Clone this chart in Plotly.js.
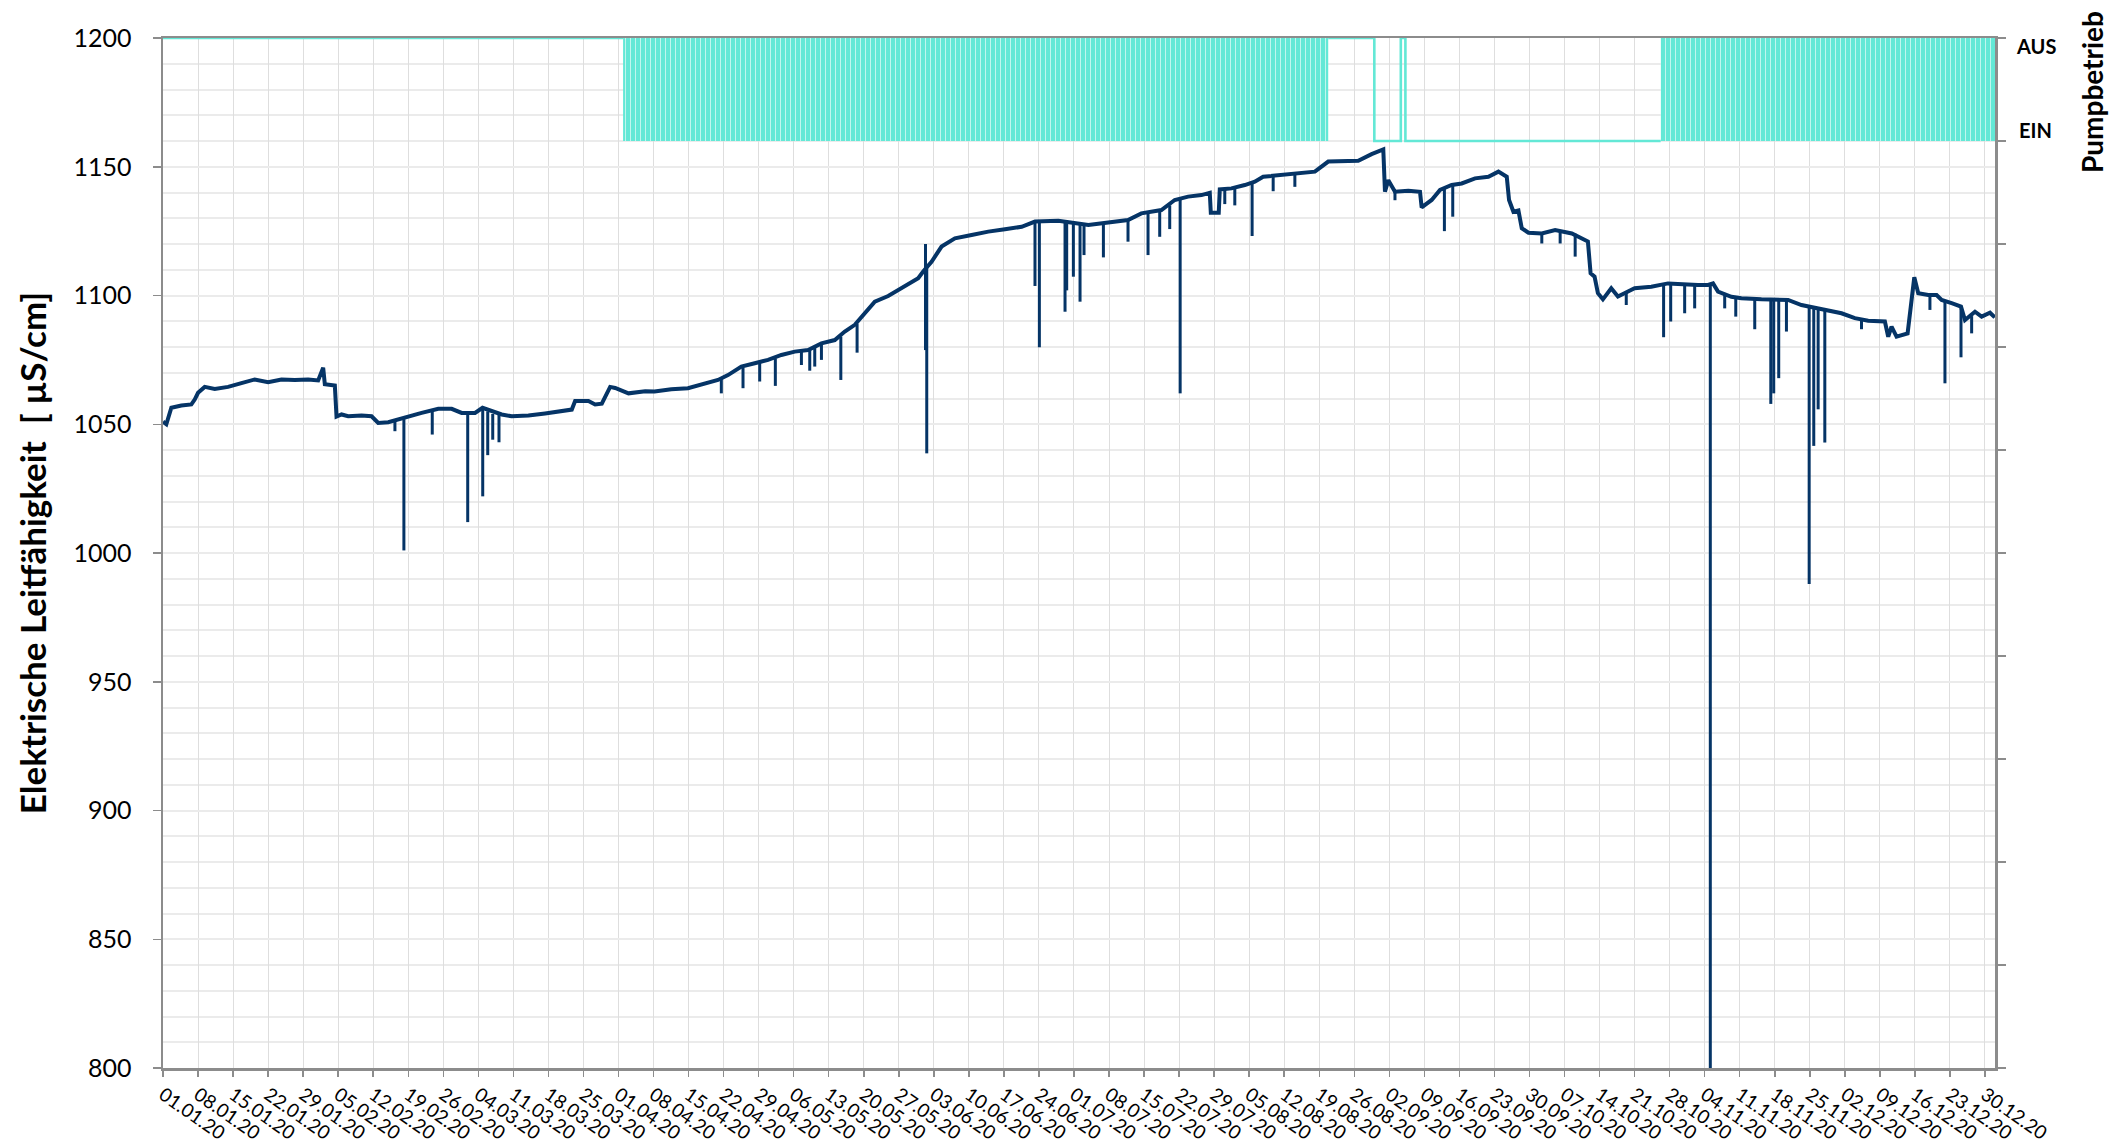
<!DOCTYPE html>
<html>
<head>
<meta charset="utf-8">
<script src="https://cdn.plot.ly/plotly-3.0.1.min.js"></script>
<style>html,body{margin:0;padding:0;background:#fff;}#chart{width:2125px;height:1144px;}</style>
</head>
<body>
<div id="chart"></div>
<script>
// ---- Elektrische Leitfähigkeit: Grundverlauf ----
const lfDates = [
'2020-01-01 00:00','2020-01-01 16:00','2020-01-02 16:00','2020-01-04 16:00','2020-01-06 16:00','2020-01-07 08:00','2020-01-08 00:00','2020-01-09 08:00','2020-01-11 08:00','2020-01-14 00:00',
'2020-01-16 16:00','2020-01-19 08:00','2020-01-22 00:00','2020-01-24 16:00','2020-01-27 08:00','2020-01-30 00:00','2020-02-01 00:00','2020-02-02 00:00','2020-02-02 08:00','2020-02-04 08:00',
'2020-02-04 16:00','2020-02-05 16:00','2020-02-07 00:00','2020-02-09 16:00','2020-02-11 16:00','2020-02-13 00:00','2020-02-15 00:00','2020-02-16 08:00','2020-02-19 00:00','2020-02-21 16:00',
'2020-02-25 00:00','2020-02-27 16:00','2020-02-29 16:00','2020-03-03 08:00','2020-03-04 20:00','2020-03-08 16:00','2020-03-10 16:00','2020-03-14 00:00','2020-03-17 08:00','2020-03-20 16:00',
'2020-03-22 16:00','2020-03-23 08:00','2020-03-26 00:00','2020-03-27 08:00','2020-03-28 16:00','2020-03-30 08:00','2020-03-31 08:00','2020-04-03 00:00','2020-04-06 08:00','2020-04-08 05:00',
'2020-04-11 13:00','2020-04-14 21:00','2020-04-18 05:00','2020-04-20 21:00','2020-04-22 21:00','2020-04-25 13:00','2020-04-28 05:00','2020-04-30 21:00','2020-05-03 13:00','2020-05-06 05:00',
'2020-05-08 21:00','2020-05-11 13:00','2020-05-14 05:00','2020-05-16 05:00','2020-05-18 05:00','2020-05-20 05:00','2020-05-22 05:00','2020-05-24 21:00','2020-05-26 21:00','2020-05-28 21:00',
'2020-05-30 21:00','2020-05-31 21:00','2020-06-02 13:00','2020-06-04 13:00','2020-06-07 05:00','2020-06-10 13:00','2020-06-13 21:00','2020-06-17 05:00','2020-06-20 13:00','2020-06-23 05:00',
'2020-06-25 21:00','2020-06-27 21:00','2020-07-03 21:00','2020-07-07 21:00','2020-07-09 03:00','2020-07-11 19:00','2020-07-14 11:00','2020-07-18 11:00','2020-07-21 03:00','2020-07-23 19:00',
'2020-07-26 11:00','2020-07-28 03:00','2020-07-28 08:00','2020-07-29 22:00','2020-07-30 03:00','2020-08-01 11:00','2020-08-04 03:00','2020-08-06 03:00','2020-08-07 19:00','2020-08-11 11:00',
'2020-08-14 03:00','2020-08-18 03:00','2020-08-20 19:00','2020-08-23 11:00','2020-08-26 19:00','2020-08-29 11:00','2020-08-31 19:00','2020-09-01 03:00','2020-09-01 19:00','2020-09-03 03:00',
'2020-09-05 19:00','2020-09-08 03:00','2020-09-08 11:00','2020-09-10 11:00','2020-09-12 03:00','2020-09-14 11:00','2020-09-16 11:00','2020-09-19 03:00','2020-09-21 19:00','2020-09-23 19:00',
'2020-09-25 11:00','2020-09-25 22:00','2020-09-26 19:00','2020-09-27 19:00','2020-09-28 11:00','2020-09-29 19:00','2020-10-02 11:00','2020-10-05 03:00','2020-10-08 11:00','2020-10-11 16:00',
'2020-10-12 05:00','2020-10-13 00:00','2020-10-13 16:00','2020-10-14 16:00','2020-10-16 08:00','2020-10-17 16:00','2020-10-21 00:00','2020-10-24 08:00','2020-10-27 16:00','2020-11-02 16:00',
'2020-11-04 16:00','2020-11-05 16:00','2020-11-06 16:00','2020-11-09 08:00','2020-11-11 08:00','2020-11-15 08:00','2020-11-20 16:00','2020-11-23 08:00','2020-11-29 08:00','2020-12-01 08:00',
'2020-12-04 00:00','2020-12-06 16:00','2020-12-10 00:00','2020-12-10 16:00','2020-12-11 08:00','2020-12-12 08:00','2020-12-14 13:00','2020-12-15 21:00','2020-12-16 16:00','2020-12-18 16:00',
'2020-12-20 08:00','2020-12-21 08:00','2020-12-23 08:00','2020-12-25 05:00','2020-12-26 00:00','2020-12-28 00:00','2020-12-29 08:00','2020-12-31 00:00','2020-12-31 23:00'
];
const lfValues = [
1051,1050,1056.4,1057.3,1057.7,1059.6,1062.2,1064.5,1063.7,1064.5,
1066,1067.4,1066.3,1067.4,1067.2,1067.4,1067,1072,1065.5,1065,
1053,1053.8,1053.1,1053.4,1053.1,1050.5,1050.8,1051.6,1053.1,1054.4,
1056,1056,1054.4,1054.4,1056.4,1053.8,1053.1,1053.4,1054.2,1055.1,
1055.7,1059,1059,1057.7,1058,1064.5,1064.1,1062,1062.8,1062.7,
1063.6,1064,1065.9,1067.2,1069.1,1072.4,1073.7,1075,1076.9,1078.2,
1078.8,1081.4,1082.7,1086,1088.6,1093.1,1097.6,1099.8,1102.1,1104.7,
1106.7,1109.3,1113.1,1119,1122.2,1123.5,1124.8,1125.7,1126.7,1128.7,
1128.7,1129,1127.4,1128.3,1128.7,1129.3,1131.9,1133.2,1137.1,1138.4,
1139,1139.9,1132.1,1132.1,1141.2,1141.6,1142.9,1144.2,1146.1,1146.8,
1147.4,1148.1,1152,1152,1152.3,1154.9,1156.7,1140.3,1144.8,1140.3,
1140.7,1140.3,1134.2,1137.1,1141,1142.9,1143.5,1145.5,1146.1,1148.1,
1146.1,1137.1,1132.5,1133,1126.1,1124.4,1124.1,1125.4,1124.1,1121,
1108.6,1107.3,1100.9,1098.5,1102.8,1099.6,1102.8,1103.4,1104.7,1104.1,
1104.1,1104.7,1101.5,1099.5,1098.9,1098.5,1098.3,1096.3,1094.1,1093.1,
1091.2,1090.2,1089.9,1084,1087.9,1084,1085.3,1107.1,1100.9,1100.2,
1100.2,1098.3,1097,1095.7,1090.5,1093.7,1091.8,1093.3,1091.5
];

// ---- Kurzzeitige Einbrüche (Zeitpunkt, Ausgangswert, Minimum) ----
const dipDates = [
'2020-02-16 08:00','2020-02-18 03:00','2020-02-23 19:00','2020-03-01 21:00','2020-03-04 21:00','2020-03-05 21:00','2020-03-06 21:00','2020-03-08 03:00',
'2020-04-21 13:00','2020-04-25 21:00','2020-04-29 05:00','2020-05-02 08:00','2020-05-07 13:00','2020-05-09 05:00','2020-05-10 05:00','2020-05-11 13:00',
'2020-05-15 10:00','2020-05-18 16:00','2020-06-01 08:00','2020-06-01 14:00','2020-06-23 05:00','2020-06-24 02:00','2020-06-29 05:00','2020-06-29 13:00',
'2020-06-30 21:00','2020-07-02 05:00','2020-07-03 00:00','2020-07-06 21:00','2020-07-11 19:00','2020-07-15 19:00','2020-07-18 03:00','2020-07-20 03:00',
'2020-07-22 05:00','2020-07-31 03:00','2020-08-02 03:00','2020-08-05 14:00','2020-08-09 19:00','2020-08-14 03:00','2020-09-03 03:00','2020-09-13 00:00',
'2020-09-14 16:00','2020-10-02 11:00','2020-10-06 03:00','2020-10-09 03:00','2020-10-19 08:00','2020-10-26 19:00','2020-10-28 05:00','2020-10-31 00:00',
'2020-11-02 00:00','2020-11-05 03:00','2020-11-08 00:00','2020-11-10 05:00','2020-11-14 00:00','2020-11-17 05:00','2020-11-17 19:00','2020-11-18 19:00',
'2020-11-20 08:00','2020-11-24 21:00','2020-11-25 19:00','2020-11-26 16:00','2020-11-28 00:00','2020-12-05 08:00','2020-12-19 00:00','2020-12-22 00:00',
'2020-12-25 05:00','2020-12-27 08:00'
];
const dipTops = [
1051.6,1052,1055,1054,1056,1055,1054,1054,
1068,1072,1074,1075.5,1078.5,1079,1080,1081,
1084,1089,1120,1111,1128.7,1128.7,1129,1129,
1128,1128,1127.5,1128,1129.3,1132,1133,1135,
1137.5,1141.4,1142,1143.5,1146.4,1147.4,1140.3,1142,
1143,1124.1,1125,1124,1101,1104,1104.7,1104.5,
1104.2,1104.5,1100.5,1099,1098.7,1098.5,1098.5,1098.4,
1098.3,1096,1095.5,1095.3,1094.8,1091,1100.2,1098,
1095.7,1092
];
const dipLows = [
1047.3,1001,1046,1012,1022,1038,1044,1043,
1062,1064,1066.6,1064.9,1073,1070.8,1072.4,1075,
1067.2,1077.8,1078.8,1038.7,1103.7,1079.9,1093.7,1102,
1107.3,1097.6,1115.7,1114.8,1120.9,1115.7,1122.8,1125.8,
1062,1135.5,1135,1123.1,1140.5,1142.2,1137,1125,
1130.6,1120.2,1120.2,1115.1,1096.3,1083.8,1089.9,1093.1,
1095,800,1095,1091.8,1086.9,1057.9,1062,1067.9,
1086,988,1041.6,1055.8,1042.9,1086.9,1094.4,1065.9,
1076,1085.3
];

// ---- Pumpbetrieb (Zustandswechsel; "TAKT" = ständiges Schalten EIN/AUS) ----
const pumpDates  = ['2020-01-01 00:00','2020-04-01 22:00','2020-08-20 19:00','2020-08-30 00:00','2020-09-04 07:00','2020-09-05 05:00','2020-10-26 05:00'];
const pumpStates = ['AUS','TAKT','AUS','EIN','AUS','EIN','TAKT'];
const pumpEnd = '2021-01-01 00:00';
const pumpLevel = {AUS: 1, EIN: 0};

// ---- Achsen ----
const xStart = '2020-01-01 00:00', xEnd = '2021-01-01 00:00';
const weekTick0 = '2020-01-01';

const NAVY = '#053466', CYAN = '#63e8d6', AXIS = '#8c8c8c', FONT = 'Lato, "Open Sans", sans-serif';

// dips as vertical segments
const dipX = [], dipY = [];
dipDates.forEach((d, i) => { dipX.push(d, d, null); dipY.push(dipTops[i], dipLows[i], null); });

// pump line + cycling blocks
const pLineX = [], pLineY = [];
const blockTraces = [];
pumpStates.forEach((s, i) => {
  const start = pumpDates[i];
  const end = i + 1 < pumpDates.length ? pumpDates[i + 1] : pumpEnd;
  if (s === 'TAKT') {
    blockTraces.push({
      x: [start, end, end, start, start], y: [pumpLevel.AUS, pumpLevel.AUS, pumpLevel.EIN, pumpLevel.EIN, pumpLevel.AUS],
      yaxis: 'y2', type: 'scatter', mode: 'lines', fill: 'toself', line: {width: 0, color: CYAN},
      fillcolor: CYAN,
      fillpattern: {shape: '|', fgcolor: '#ffffff', bgcolor: CYAN, size: 5, solidity: 0.12},
      hoverinfo: 'skip', showlegend: false
    });
  } else {
    pLineX.push(start); pLineY.push(pumpLevel[s]);
    const next = pumpStates[i + 1];
    if (next === undefined || next === 'TAKT') { pLineX.push(end, null); pLineY.push(pumpLevel[s], null); }
  }
});

const traces = [
  ...blockTraces,
  {x: pLineX, y: pLineY, yaxis: 'y2', type: 'scatter', mode: 'lines', line: {color: CYAN, width: 2.6, shape: 'hv'}, name: 'Pumpbetrieb', showlegend: false},
  {x: lfDates, y: lfValues, type: 'scatter', mode: 'lines', line: {color: NAVY, width: 4}, name: 'Elektrische Leitfähigkeit', showlegend: false},
  {x: dipX, y: dipY, type: 'scatter', mode: 'lines', line: {color: NAVY, width: 3}, hoverinfo: 'skip', showlegend: false}
];

const layout = {
  width: 2125, height: 1144,
  margin: {l: 163, r: 130, t: 38, b: 76, pad: 0},
  paper_bgcolor: '#ffffff', plot_bgcolor: '#ffffff',
  showlegend: false,
  font: {family: FONT, color: '#000000'},
  xaxis: {
    type: 'date', range: [xStart, xEnd], tick0: weekTick0, dtick: 7 * 86400000, tickformat: '%d.%m.%y',
    tickangle: 35, tickfont: {size: 19, family: FONT, color: '#000'},
    ticks: 'outside', ticklen: 6, tickwidth: 1.5, tickcolor: AXIS,
    showline: true, linecolor: AXIS, linewidth: 2.5, mirror: true,
    showgrid: true, gridcolor: '#dedede', gridwidth: 1,
    zeroline: false, automargin: false, layer: 'below traces'
  },
  yaxis: {
    range: [800, 1200], tick0: 800, dtick: 50,
    tickfont: {size: 25, family: FONT, color: '#000'},
    ticks: 'outside', ticklen: 8, tickwidth: 1.5, tickcolor: AXIS, ticklabelstandoff: 16,
    showline: true, linecolor: AXIS, linewidth: 2.5,
    showgrid: true, gridcolor: '#ebebeb', gridwidth: 2,
    minor: {dtick: 10, showgrid: true, gridcolor: '#ebebeb', gridwidth: 2, ticks: ''},
    zeroline: false, automargin: false, layer: 'below traces',
    title: {text: 'Elektrische Leitfähigkeit  [ µS/cm]', font: {size: 35, family: FONT, weight: 700, color: '#000'}, standoff: 16}
  },
  yaxis2: {
    overlaying: 'y', side: 'right', range: [-9, 1], tick0: 0, dtick: 1,
    showticklabels: false, ticks: 'outside', ticklen: 8, tickwidth: 1.5, tickcolor: AXIS,
    showline: true, linecolor: AXIS, linewidth: 2.5, showgrid: false, zeroline: false,
    automargin: false, layer: 'below traces'
  },
  annotations: [
    {text: 'AUS', xref: 'paper', yref: 'y2', x: 1.0, y: pumpLevel.AUS, xanchor: 'left', yanchor: 'middle', xshift: 19, yshift: -8, showarrow: false, font: {size: 20, family: FONT, weight: 700, color: '#000'}},
    {text: 'EIN', xref: 'paper', yref: 'y2', x: 1.0, y: pumpLevel.EIN, xanchor: 'left', yanchor: 'middle', xshift: 22, yshift: 11, showarrow: false, font: {size: 20, family: FONT, weight: 700, color: '#000'}},
    {text: 'Pumpbetrieb', xref: 'paper', yref: 'paper', x: 1.0, y: 1.0, xanchor: 'center', yanchor: 'middle', xshift: 97, yshift: -54, textangle: -90, showarrow: false, font: {size: 28, family: FONT, weight: 700, color: '#000'}}
  ]
};

Plotly.newPlot('chart', traces, layout, {displayModeBar: false, staticPlot: true});
</script>
</body>
</html>
